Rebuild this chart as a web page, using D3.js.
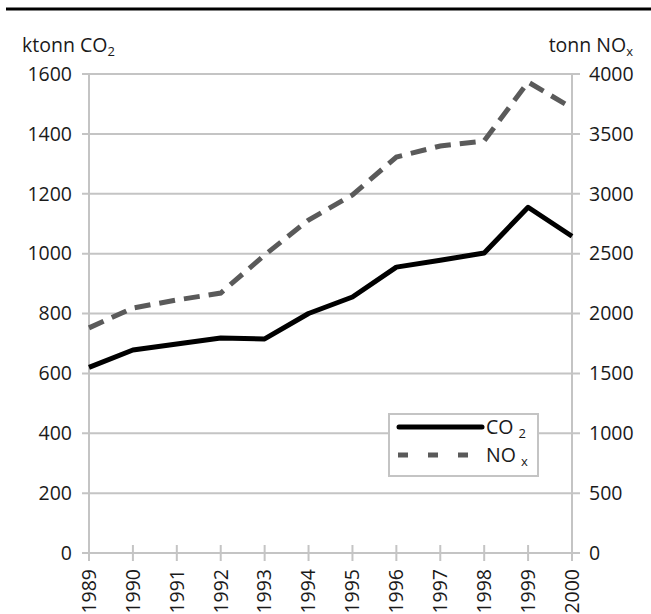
<!DOCTYPE html>
<html><head><meta charset="utf-8">
<script src="https://cdn.jsdelivr.net/npm/d3@7"></script>
<style>body{margin:0;background:#fff}svg{display:block}text{font-family:"Open Sans",sans-serif;font-weight:400;fill:#1a1a1a}</style>
</head><body>
<script>
const years = [1989,1990,1991,1992,1993,1994,1995,1996,1997,1998,1999,2000];
const co2 = [620,678,698,718,715,800,855,955,978,1002,1155,1058];
const nox = [1880,2046,2113,2171,2488,2781,2990,3307,3399,3441,3933,3716];
const leftTicks = [0,200,400,600,800,1000,1200,1400,1600];
const rightTicks = [0,500,1000,1500,2000,2500,3000,3500,4000];

const W=651,H=614;
const svg=d3.select("body").append("svg").attr("width",W).attr("height",H);
const x=d3.scaleLinear().domain([1989,2000]).range([89,572]);
const yL=d3.scaleLinear().domain([0,1600]).range([553,74]);
const yR=d3.scaleLinear().domain([0,4000]).range([553,74]);
const grid="#c4c4c4";

// top rule
svg.append("line").attr("x1",6).attr("x2",651).attr("y1",9).attr("y2",9).attr("stroke","#000").attr("stroke-width",3);

// gridlines
svg.append("g").selectAll("line").data(leftTicks).join("line")
  .attr("x1",82).attr("x2",580).attr("y1",d=>yL(d)).attr("y2",d=>yL(d))
  .attr("stroke",grid).attr("stroke-width",2);
// axis lines
svg.append("line").attr("x1",89).attr("x2",89).attr("y1",74).attr("y2",553).attr("stroke",grid).attr("stroke-width",2);
svg.append("line").attr("x1",572).attr("x2",572).attr("y1",74).attr("y2",553).attr("stroke",grid).attr("stroke-width",2);
// x ticks
svg.append("g").selectAll("line").data(years).join("line")
  .attr("x1",d=>x(d)).attr("x2",d=>x(d)).attr("y1",545).attr("y2",561)
  .attr("stroke",grid).attr("stroke-width",2);

// left labels
svg.append("g").selectAll("text").data(leftTicks).join("text")
  .attr("x",72).attr("y",d=>yL(d)).attr("dy","0.35em").attr("text-anchor","end")
  .attr("font-size",19.5).text(d=>d);
svg.append("g").selectAll("text").data(rightTicks).join("text")
  .attr("x",589).attr("y",d=>yR(d)).attr("dy","0.35em").attr("text-anchor","start")
  .attr("font-size",19.5).text(d=>d);
// x labels
svg.append("g").selectAll("text").data(years).join("text")
  .attr("transform",d=>`translate(${x(d)},569) rotate(-90)`).attr("dy","0.35em")
  .attr("text-anchor","end").attr("font-size",19.5).text(d=>d);

// axis titles
const t1=svg.append("text").attr("x",22).attr("y",52).attr("font-size",19.5);
t1.append("tspan").text("ktonn CO");
t1.append("tspan").attr("font-size",13).attr("dy",4).text("2");
const t2=svg.append("text").attr("x",633).attr("y",52).attr("font-size",19.5).attr("text-anchor","end");
t2.append("tspan").text("tonn NO");
t2.append("tspan").attr("font-size",13).attr("dy",4).text("x");

// lines
const lineL=d3.line().x((d,i)=>x(years[i])).y(d=>yL(d));
const lineR=d3.line().x((d,i)=>x(years[i])).y(d=>yR(d));
svg.append("path").datum(nox).attr("d",lineR).attr("fill","none").attr("stroke","#5a5a5a")
  .attr("stroke-width",5).attr("stroke-dasharray","16,9");
svg.append("path").datum(co2).attr("d",lineL).attr("fill","none").attr("stroke","#000")
  .attr("stroke-width",5).attr("stroke-linejoin","round");

// legend
svg.append("rect").attr("x",389).attr("y",414).attr("width",149).attr("height",62)
  .attr("fill","#fff").attr("stroke",grid).attr("stroke-width",2);
svg.append("line").attr("x1",399).attr("x2",482).attr("y1",427).attr("y2",427)
  .attr("stroke","#000").attr("stroke-width",5).attr("stroke-linecap","round");
svg.append("line").attr("x1",398).attr("x2",470).attr("y1",455).attr("y2",455)
  .attr("stroke","#5a5a5a").attr("stroke-width",5).attr("stroke-dasharray","10,20");
const l1=svg.append("text").attr("x",486).attr("y",434).attr("font-size",19.5);
l1.append("tspan").text("CO ");
l1.append("tspan").attr("font-size",13).attr("dy",4).text("2");
const l2=svg.append("text").attr("x",486).attr("y",462).attr("font-size",19.5);
l2.append("tspan").text("NO ");
l2.append("tspan").attr("font-size",13).attr("dy",4).text("x");
</script>
</body></html>
